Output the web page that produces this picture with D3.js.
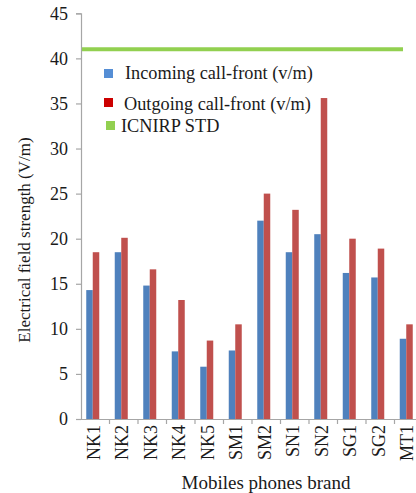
<!DOCTYPE html>
<html>
<head>
<meta charset="utf-8">
<script src="https://cdn.jsdelivr.net/npm/d3@7"></script>
<style>
  body { margin: 0; background: #fff; }
  svg text { font-family: "Liberation Serif", "DejaVu Serif", serif; }
</style>
</head>
<body>
<svg></svg>
<script>
var width = 416,
    height = 493;

// Data
var brands = ["NK1", "NK2", "NK3", "NK4", "NK5", "SM1", "SM2", "SN1", "SN2", "SG1", "SG2", "MT1"];
var incoming = [14.3, 18.5, 14.8, 7.5, 5.8, 7.6, 22.0, 18.5, 20.5, 16.2, 15.7, 8.9];
var outgoing = [18.5, 20.1, 16.6, 13.2, 8.7, 10.5, 25.0, 23.2, 35.6, 20.0, 18.9, 10.5];
var icnirp = 41;
var yTicks = [0, 5, 10, 15, 20, 25, 30, 35, 40, 45];
var legendLabels = ["Incoming call-front (v/m)", "Outgoing call-front (v/m)", "ICNIRP STD"];

var BLUE = "#4f81bd",
    RED = "#c0504d",
    GREEN = "#92d050",
    AXIS = "#a6a6a6",
    TEXT = "#1a1a1a",
    FONT = "18px";

var svg = d3.select("svg")
    .attr("width", width)
    .attr("height", height);

var x0 = 81, x1 = 423, yTop = 13.3, yBot = 419;

var x = d3.scaleBand()
    .domain(brands)
    .range([x0, x1])
    .paddingInner(0)
    .paddingOuter(0);

var y = d3.scaleLinear()
    .domain([0, 45])
    .range([yBot, yTop]);

var BAR_W = 6.5,
    SHIFT = -2.5; // bar pair sits a bit left of the band centre

function centre(d) { return x(d) + x.bandwidth() / 2 + SHIFT; }

// y axis
var yAxis = d3.axisLeft(y).tickValues(yTicks).tickSize(5).tickPadding(8);
var gy = svg.append("g")
    .attr("transform", "translate(" + x0 + ",0)")
    .call(yAxis)
    .attr("font-family", null)
    .attr("font-size", null);
gy.select(".domain").attr("stroke", AXIS).attr("stroke-width", 1.2);
gy.selectAll(".tick line").attr("stroke", AXIS).attr("stroke-width", 1.2);
gy.selectAll(".tick text")
    .attr("fill", TEXT)
    .style("font-size", FONT);

// x axis
var xAxis = d3.axisBottom(x).tickSize(0).tickFormat("");
var gx = svg.append("g")
    .attr("transform", "translate(0," + yBot + ")")
    .call(xAxis);
gx.select(".domain").attr("stroke", AXIS).attr("stroke-width", 1.2);

gx.selectAll(".sep")
    .data(brands.slice(1))
  .enter().append("line")
    .attr("class", "sep")
    .attr("x1", function(d) { return x(d); })
    .attr("x2", function(d) { return x(d); })
    .attr("y1", 0)
    .attr("y2", 5)
    .attr("stroke", AXIS)
    .attr("stroke-width", 1.2);

// category labels, rotated
svg.selectAll(".cat")
    .data(brands)
  .enter().append("text")
    .attr("class", "cat")
    .attr("transform", function(d) {
      return "translate(" + (centre(d) + 0.5) + "," + (yBot + 6) + ") rotate(-90)";
    })
    .attr("text-anchor", "end")
    .attr("dy", "0.35em")
    .attr("fill", TEXT)
    .style("font-size", FONT)
    .text(function(d) { return d; });

// bars
svg.selectAll(".bar-in")
    .data(brands)
  .enter().append("rect")
    .attr("class", "bar-in")
    .attr("x", function(d) { return centre(d) - BAR_W; })
    .attr("y", function(d, i) { return y(incoming[i]); })
    .attr("width", BAR_W)
    .attr("height", function(d, i) { return yBot - y(incoming[i]); })
    .attr("fill", BLUE);

svg.selectAll(".bar-out")
    .data(brands)
  .enter().append("rect")
    .attr("class", "bar-out")
    .attr("x", function(d) { return centre(d); })
    .attr("y", function(d, i) { return y(outgoing[i]); })
    .attr("width", BAR_W)
    .attr("height", function(d, i) { return yBot - y(outgoing[i]); })
    .attr("fill", RED);

// ICNIRP limit line
svg.append("line")
    .attr("x1", x0 + 1)
    .attr("x2", 403)
    .attr("y1", y(icnirp))
    .attr("y2", y(icnirp))
    .attr("stroke", GREEN)
    .attr("stroke-width", 4);

// legend (entries sit unevenly in the original)
var legend = [
  { label: legendLabels[0], color: "#558ed5", sx: 104, sy: 69, tx: 125, ty: 79 },
  { label: legendLabels[1], color: "#cc0000", sx: 104, sy: 98, tx: 124, ty: 110 },
  { label: legendLabels[2], color: GREEN,     sx: 106, sy: 121, tx: 121, ty: 132 }
];

var lg = svg.selectAll(".legend")
    .data(legend)
  .enter().append("g")
    .attr("class", "legend");

lg.append("rect")
    .attr("x", function(d) { return d.sx; })
    .attr("y", function(d) { return d.sy; })
    .attr("width", 9)
    .attr("height", 9)
    .attr("fill", function(d) { return d.color; });

lg.append("text")
    .attr("x", function(d) { return d.tx; })
    .attr("y", function(d) { return d.ty; })
    .attr("fill", TEXT)
    .style("font-size", "18.3px")
    .text(function(d) { return d.label; });

// axis titles
svg.append("text")
    .attr("transform", "translate(30,240) rotate(-90)")
    .attr("text-anchor", "middle")
    .attr("fill", TEXT)
    .style("font-size", "17px")
    .text("Electrical field strength (V/m)");

svg.append("text")
    .attr("x", 266)
    .attr("y", 489)
    .attr("text-anchor", "middle")
    .attr("fill", TEXT)
    .style("font-size", "19px")
    .text("Mobiles phones brand");
</script>
</body>
</html>
